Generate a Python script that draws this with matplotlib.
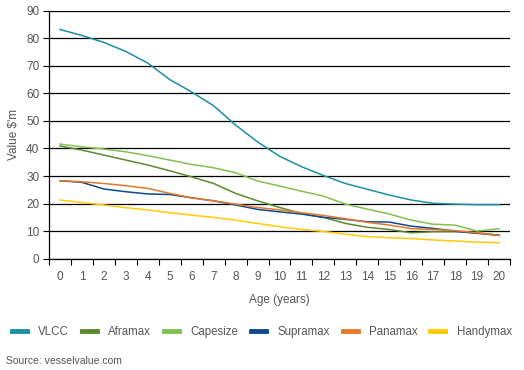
import numpy as np
import matplotlib.pyplot as plt
from matplotlib.ticker import FixedLocator

# Vessel values by age, $m
ages = list(range(21))
vlcc = [83.2, 81.0, 78.5, 75.2, 71.0, 65.0, 60.5, 55.5, 48.5, 42.4, 37.2,
        33.4, 30.2, 27.3, 25.2, 23.1, 21.3, 20.1, 19.8, 19.6, 19.6]
aframax = [40.9, 39.4, 37.6, 35.8, 34.0, 31.9, 29.7, 27.3, 23.7, 21.0, 18.6,
           16.4, 15.0, 12.8, 11.4, 10.6, 9.4, 9.8, 9.8, 9.4, 8.5]
capesize = [41.6, 40.6, 39.8, 38.8, 37.4, 35.8, 34.2, 33.0, 31.2, 28.2, 26.4,
            24.5, 22.7, 19.8, 18.0, 16.2, 14.0, 12.5, 12.2, 10.0, 10.9]
supramax = [28.3, 27.7, 25.3, 24.3, 23.5, 23.3, 22.1, 21.0, 19.5, 17.9, 17.0,
            16.2, 15.0, 14.3, 13.4, 13.3, 11.8, 11.0, 10.0, 9.2, 8.5]
panamax = [28.3, 27.9, 27.3, 26.5, 25.5, 23.7, 22.1, 21.0, 19.8, 18.6, 17.7,
           16.7, 15.7, 14.5, 13.2, 12.2, 10.9, 10.6, 10.2, 9.4, 8.5]
handymax = [21.3, 20.4, 19.5, 18.5, 17.7, 16.7, 15.8, 15.0, 14.0, 12.8, 11.6,
            10.6, 9.9, 8.9, 8.0, 7.6, 7.3, 6.8, 6.4, 6.0, 5.8]

series = [
    ('VLCC', vlcc, '#1a8fa6'),
    ('Aframax', aframax, '#5b8a2c'),
    ('Capesize', capesize, '#82c14e'),
    ('Supramax', supramax, '#0b4a8f'),
    ('Panamax', panamax, '#e8772a'),
    ('Handymax', handymax, '#ffcb05'),
]

text_col = '#555555'
plt.rcParams['font.family'] = ['Liberation Sans', 'DejaVu Sans']

fig = plt.figure(figsize=(5.24, 3.70), dpi=100)
ax = fig.add_axes([49 / 524, 1 - 258.7 / 370, (510 - 49) / 524, (258.7 - 10.7) / 370])

for name, vals, col in series:
    ax.plot(ages, vals, color=col, lw=1.1, label=name, zorder=3)

ax.set_xlim(-0.5, 20.5)
ax.set_ylim(0, 90)
ax.set_yticks(range(0, 91, 10))
ax.set_xticks(ages)
ax.xaxis.set_minor_locator(FixedLocator(np.arange(-0.5, 21, 1)))
ax.tick_params(axis='x', which='major', length=0, pad=9, labelsize=8.5, labelcolor=text_col)
ax.tick_params(axis='x', which='minor', length=4, width=0.8, color='black', direction='out')
ax.tick_params(axis='y', length=4, width=0.8, color='black', labelsize=8.5,
               labelcolor=text_col, pad=3)
ax.grid(axis='y', color='black', lw=0.9, zorder=1)
ax.set_axisbelow(True)
for side in ['top', 'right']:
    ax.spines[side].set_visible(False)
for side in ['left', 'bottom']:
    ax.spines[side].set_color('black')
    ax.spines[side].set_linewidth(0.9)

ax.set_xlabel('Age (years)', fontsize=8.5, color=text_col, labelpad=8)
ax.set_ylabel("Value $'m", fontsize=8.5, color=text_col, labelpad=4)

handles, labels = ax.get_legend_handles_labels()
leg = fig.legend(handles, labels, loc='center', bbox_to_anchor=(0.5, 1 - 332 / 370),
                 ncol=6, frameon=False, fontsize=8.3, handlelength=1.3,
                 handletextpad=1.0, columnspacing=1.1, labelcolor=text_col,
                 borderaxespad=0, borderpad=0)
for line in leg.get_lines():
    line.set_linewidth(3.5)

fig.text(6 / 524, 1 - 361 / 370, 'Source: vesselvalue.com', fontsize=7.5,
         color=text_col, va='center', ha='left')

fig.savefig('out.png', dpi=100)
